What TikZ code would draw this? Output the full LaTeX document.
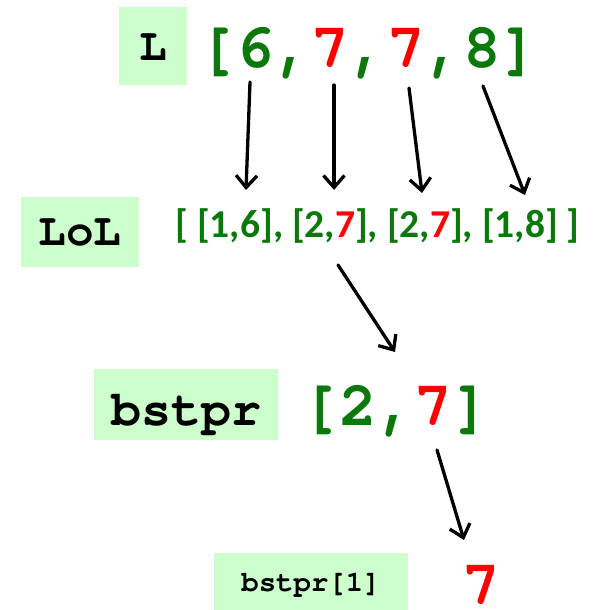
\documentclass[tikz,border=0pt]{standalone}
\usepackage{fontspec}
\usetikzlibrary{arrows.meta}
\newfontfamily\cour{texgyrecursor-bold.otf}
\newfontfamily\carl{Carlito}[BoldFont={* Bold}]
\definecolor{dgreen}{RGB}{10,120,10}
\definecolor{boxgreen}{RGB}{204,255,204}
\tikzset{
  lbl/.style={fill=boxgreen, inner sep=0pt, text depth=0pt, font=\cour, text=black},
  lst/.style={anchor=base, inner sep=0pt, text=dgreen},
  arr/.style={line width=3.3pt, line cap=round, -{Straight Barb[length=12pt,width=21pt]}}
}
\newcommand{\rd}[1]{\textcolor{red}{#1}}
\begin{document}
\begin{tikzpicture}[x=1pt,y=-1pt]
\useasboundingbox (0,0) rectangle (599,610);
% label boxes
\node[lbl, minimum width=68pt, minimum height=78pt, text height=28pt, font=\cour\fontsize{46}{46}\selectfont] (Lbox) at (153,46) {L};
\node[lbl, minimum width=118pt, minimum height=70pt, text height=26pt, font=\cour\fontsize{46}{46}\selectfont] (LoLbox) at (80,232) {LoL};
\node[lbl, minimum width=184pt, minimum height=71pt, text height=41pt, font=\cour\fontsize{50}{50}\selectfont] (bstprbox) at (186,404.5) {bstpr};
\node[lbl, minimum width=194pt, minimum height=57pt, text height=19pt, font=\cour\fontsize{29}{29}\selectfont] (bstpronebox) at (311,581.5) {bstpr[1]};
% values
\node[lst, font=\cour\fontsize{63}{63}\selectfont] (Llist) at (368.5,67) {[6,\rd{7},\rd{7},8]};
\node[lst, font=\carl\bfseries\fontsize{39.5}{39.5}\selectfont] (LoLlist) at (377.5,237) {[ [1,6], [2,\rd{7}], [2,\rd{7}], [1,8] ]};
\node[lst, font=\cour\fontsize{63}{63}\selectfont] (bstprval) at (396,425) {[2,\rd{7}]};
\node[lst, font=\cour\fontsize{63}{63}\selectfont, text=red, text depth=0pt, text height=38pt] (oneval) at (481,604) {7};
% arrow ends
\coordinate (a1s) at (250,82);  \coordinate (a1e) at (246,190);
\coordinate (a2s) at (334,85);  \coordinate (a2e) at (334,190);
\coordinate (a3s) at (409,88);  \coordinate (a3e) at (422,193);
\coordinate (a4s) at (483,86);  \coordinate (a4e) at (525,195);
\coordinate (a5s) at (338,265); \coordinate (a5e) at (395,352);
\coordinate (a6s) at (437,450); \coordinate (a6e) at (464,540);
\draw[arr] (a1s) -- (a1e);
\draw[arr] (a2s) -- (a2e);
\draw[arr] (a3s) -- (a3e);
\draw[arr] (a4s) -- (a4e);
\draw[arr] (a5s) -- (a5e);
\draw[arr] (a6s) -- (a6e);
\end{tikzpicture}
\end{document}
